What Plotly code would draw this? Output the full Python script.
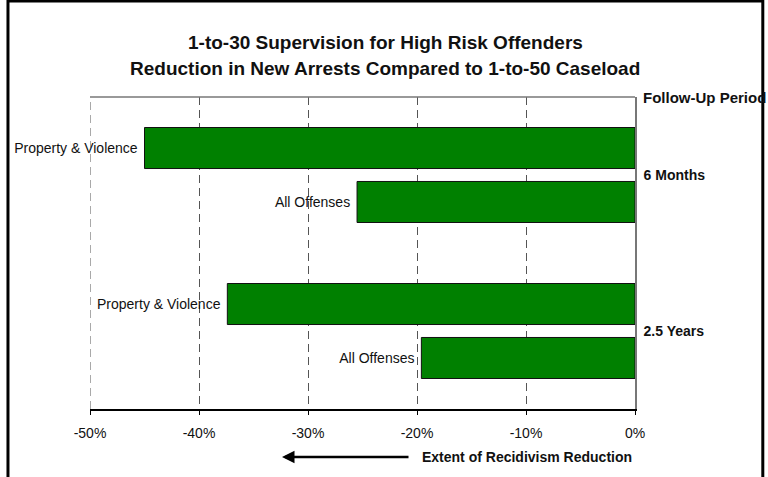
import plotly.graph_objects as go

# Follow-up periods (y categories) and the two offense series
periods = ["6 Months", "2.5 Years"]
series_names = ["Property & Violence", "All Offenses"]
prop_violence = [-45.0, -37.4]   # % change in new arrests
all_offenses = [-25.5, -19.6]
x_ticks = [-50, -40, -30, -20, -10, 0]
x_tick_text = ["-50%", "-40%", "-30%", "-20%", "-10%", "0%"]

FONT = "Liberation Sans, Arial, sans-serif"
GREEN = "#008000"
NBSP = "\u00a0"

fig = go.Figure()
for name, vals in zip(series_names, [prop_violence, all_offenses]):
    fig.add_trace(go.Bar(
        y=periods, x=vals, name=name, orientation="h",
        marker=dict(color=GREEN, line=dict(color="#111111", width=1)),
        text=[name + NBSP] * len(vals), textposition="outside",
        textfont=dict(family=FONT, size=14, color="#111111"),
        constraintext="none", cliponaxis=False,
    ))

fig.update_layout(
    width=768, height=477,
    margin=dict(l=90, r=133, t=97, b=68),
    paper_bgcolor="white", plot_bgcolor="white",
    showlegend=False,
    barmode="group", bargap=0.308, bargroupgap=0.24,
    font=dict(family=FONT, color="#111111"),
)

fig.update_xaxes(
    range=[-50, 0], tickvals=x_ticks, ticktext=x_tick_text,
    showgrid=True, gridcolor="#555555", gridwidth=1, griddash="8px,5px",
    zeroline=False,
    showline=True, linecolor="#000000", linewidth=1.5,
    ticks="outside", ticklen=4, tickcolor="#000000",
    ticklabelstandoff=6,
    tickfont=dict(family=FONT, size=14, color="#111111"),
)
fig.update_yaxes(
    type="category", categoryorder="array", categoryarray=periods,
    autorange="reversed", side="right",
    showgrid=False, zeroline=False,
    showline=True, linecolor="#777777", linewidth=1.5,
    ticks="", ticklabelstandoff=4,
    tickfont=dict(family=FONT, size=14, color="#111111", weight="bold"),
)

# plot-area top edge
fig.add_shape(type="line", xref="paper", yref="paper", x0=0, x1=1, y0=1, y1=1,
              line=dict(color="#777777", width=1.5))
# dashed grid line along the left edge of the value axis
fig.add_shape(type="line", xref="x", yref="paper", x0=x_ticks[0], x1=x_ticks[0],
              y0=0, y1=1, line=dict(color="#555555", width=1, dash="8px,5px"))
# outer chart frame
fig.add_shape(type="rect", xref="paper", yref="paper",
              x0=-0.1505, x1=1.2345, y0=-0.235, y1=1.3077,
              line=dict(color="#000000", width=3), fillcolor="rgba(0,0,0,0)")

title_lines = ["1-to-30 Supervision for High Risk Offenders",
               "Reduction in New Arrests Compared to 1-to-50 Caseload"]
for i, line in enumerate(title_lines):
    fig.add_annotation(text=f"<b>{line}</b>", xref="paper", yref="paper",
                       x=(385 - 90) / 545, y=(409 - (43 + 25 * i)) / 312,
                       xanchor="center", yanchor="middle", showarrow=False,
                       font=dict(family=FONT, size=19, color="#111111"))

fig.add_annotation(text="<b>Follow-Up Period</b>", xref="paper", yref="paper",
                   x=1 + 6 / 545, y=1, xanchor="left", yanchor="middle",
                   showarrow=False, font=dict(family=FONT, size=15, color="#111111"))

# direction arrow under the axis
fig.add_annotation(text="", xref="paper", yref="paper",
                   x=(282 - 90) / 545, y=(409 - 457) / 312,
                   ax=128, ay=0, showarrow=True,
                   arrowhead=2, arrowsize=1, arrowwidth=2.5, arrowcolor="#000000")
fig.add_annotation(text="<b>Extent of Recidivism Reduction</b>", xref="paper", yref="paper",
                   x=(420 - 90) / 545, y=(409 - 457) / 312,
                   xanchor="left", yanchor="middle", showarrow=False,
                   font=dict(family=FONT, size=14, color="#111111"))

fig.write_html("out.html")
